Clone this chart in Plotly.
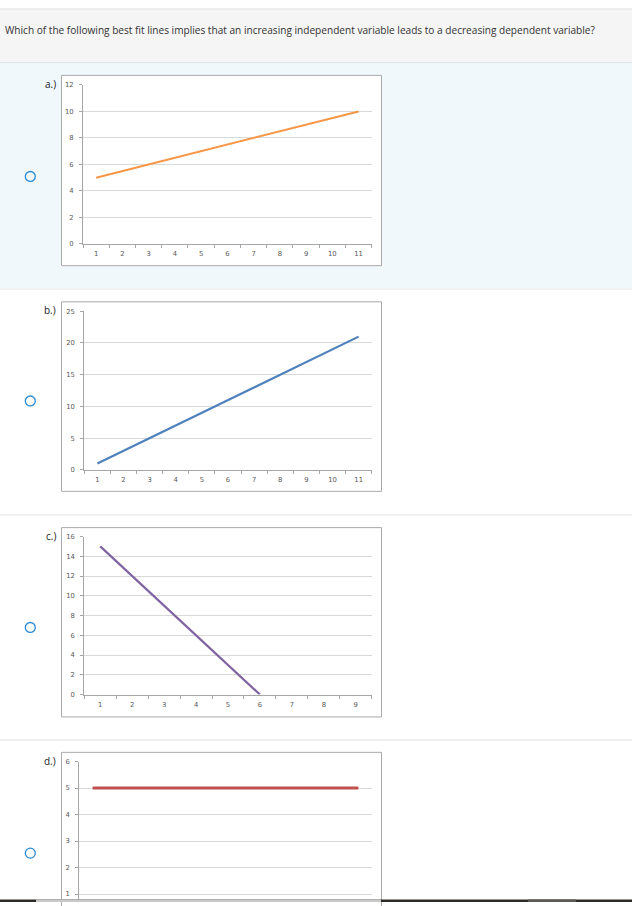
import plotly.graph_objects as go

W, H = 632, 906

question = "Which of the following best fit lines implies that an increasing independent variable leads to a decreasing dependent variable?"
option_labels = ["a.)", "b.)", "c.)", "d.)"]

# option a: orange line
a_x = ["1", "2", "3", "4", "5", "6", "7", "8", "9", "10", "11"]
a_y = [5, 5.5, 6, 6.5, 7, 7.5, 8, 8.5, 9, 9.5, 10]
# option b: blue line
b_x = ["1", "2", "3", "4", "5", "6", "7", "8", "9", "10", "11"]
b_y = [1, 3, 5, 7, 9, 11, 13, 15, 17, 19, 21]
# option c: purple line (only defined up to 6)
c_x = ["1", "2", "3", "4", "5", "6", "7", "8", "9"]
c_y = [15, 12, 9, 6, 3, 0, None, None, None]
# option d: red flat line
d_x = ["1", "2", "3", "4", "5", "6", "7", "8", "9", "10", "11"]
d_y = [5, 5, 5, 5, 5, 5, 5, 5, 5, 5, 5]


def px(x):
    return x / W


def py(y):
    return 1 - y / H


fig = go.Figure()

# (x, y, color, width, ymax, dtick, plot px box [x0, x1, ybottom, ytop], y range low)
charts = [
    (a_x, a_y, "#f79646", 2, 12, 2, [83, 371.7, 242, 81.7], 0),
    (b_x, b_y, "#4f81bd", 2.2, 25, 5, [84.3, 371.7, 470, 310], 0),
    (c_x, c_y, "#8064a2", 2.2, 16, 2, [84.3, 371.7, 696.7, 537.3], 0),
    (d_x, d_y, "#c0504d", 3, 6, 1, [79.3, 371.7, 906, 764.3], 0.70),
]

axis_font = dict(family="DejaVu Sans", size=6.8, color="#595959")

for i, (xs, ys, col, lw, ymax, dt, box, ylo) in enumerate(charts):
    n = "" if i == 0 else str(i + 1)
    fig.add_trace(go.Scatter(x=xs, y=ys, mode="lines", line=dict(color=col, width=lw),
                             xaxis="x" + n, yaxis="y" + n, showlegend=False, hoverinfo="skip"))
    fig.layout["xaxis" + n] = dict(
        domain=[px(box[0]), px(box[1])], anchor="y" + n, type="category",
        categoryorder="array", categoryarray=xs,
        range=[-0.5, len(xs) - 0.5], tickson="boundaries", ticks="outside", ticklen=3,
        tickcolor="#a6a6a6", showline=True, linecolor="#a6a6a6", linewidth=1,
        showgrid=False, tickfont=axis_font, ticklabelstandoff=3, fixedrange=True,
        visible=(i != 3),
    )
    fig.layout["yaxis" + n] = dict(
        domain=[py(box[2]), py(box[3])], anchor="x" + n, range=[ylo, ymax],
        tickmode="linear", tick0=0, dtick=dt, ticks="outside", ticklen=3,
        tickcolor="#a6a6a6", showline=True, linecolor="#a6a6a6", linewidth=1,
        showgrid=True, gridcolor="#d9d9d9", gridwidth=1, zeroline=False,
        tickfont=axis_font, ticklabelstandoff=4, fixedrange=True,
    )

shapes = []
# header band
shapes.append(dict(type="rect", xref="paper", yref="paper", x0=0, x1=1, y0=py(59), y1=py(5),
                   fillcolor="#f5f5f5", line=dict(width=0), layer="below"))
for yy in [5, 59, 287.5, 515.5, 742.5]:
    shapes.append(dict(type="line", xref="paper", yref="paper", x0=0, x1=1, y0=py(yy), y1=py(yy),
                       line=dict(color="#e2e2e2", width=1), layer="below"))
# option a highlighted background
shapes.append(dict(type="rect", xref="paper", yref="paper", x0=0, x1=1, y0=py(287), y1=py(59.5),
                   fillcolor="#f0f8fc", line=dict(width=0), layer="below"))
# chart frames
frames = [(72, 264), (300.5, 491.7), (528.3, 719.3), (755, 915)]
for t, b in frames:
    shapes.append(dict(type="rect", xref="paper", yref="paper", x0=px(61.5), x1=px(381.5),
                       y0=py(b), y1=py(t), fillcolor="white",
                       line=dict(color="#a9a9a9", width=1), layer="below"))
# radio buttons
radio_y = [174, 400.5, 629, 856.7]
for ry in radio_y:
    shapes.append(dict(type="circle", xref="paper", yref="paper", x0=px(25.3), x1=px(35.3),
                       y0=py(ry + 5), y1=py(ry - 5), line=dict(color="#2a8ad4", width=1.3)))
# bottom dark strip
shapes.append(dict(type="rect", xref="paper", yref="paper", x0=0, x1=1, y0=0, y1=py(903.5),
                   fillcolor="#2e2b27", line=dict(width=0)))
shapes.append(dict(type="rect", xref="paper", yref="paper", x0=px(36), x1=px(381), y0=0, y1=py(903.5),
                   fillcolor="#c9c9c9", line=dict(width=0)))
shapes.append(dict(type="rect", xref="paper", yref="paper", x0=px(528), x1=px(576), y0=0, y1=py(903.5),
                   fillcolor="#5b5855", line=dict(width=0)))

annotations = [dict(text=question, xref="paper", yref="paper", x=px(3), y=py(26.5),
                    xanchor="left", yanchor="middle", showarrow=False,
                    font=dict(family="Open Sans", size=10.1, color="#333333"))]
label_y = [80.7, 308.5, 536.5, 763.5]
for lab, ly in zip(option_labels, label_y):
    annotations.append(dict(text=lab, xref="paper", yref="paper", x=px(57.5), y=py(ly),
                            xanchor="right", yanchor="middle", showarrow=False,
                            font=dict(family="Open Sans", size=10, color="#222222")))

fig.update_layout(
    width=W, height=H, margin=dict(l=0, r=0, t=0, b=0),
    paper_bgcolor="white", plot_bgcolor="rgba(0,0,0,0)",
    shapes=shapes, annotations=annotations,
)

fig.write_html("out.html", config={"displayModeBar": False},
               post_script="document.body.style.margin='0';document.body.style.overflow='hidden';")
